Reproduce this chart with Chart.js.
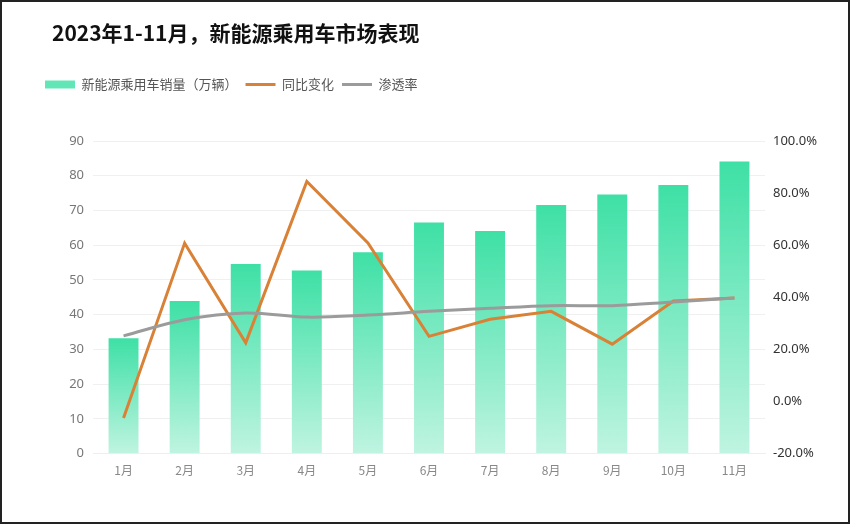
<!DOCTYPE html>
<html>
<head>
<meta charset="utf-8">
<script src="https://cdn.jsdelivr.net/npm/chart.js@4.4.1/dist/chart.umd.min.js"></script>
<style>
  html, body { margin: 0; padding: 0; background: #fff; }
  .wrap { position: relative; width: 850px; height: 524px; }
  .title {
    position: absolute; left: 52px; top: 18px;
    font: bold 21px "Noto Sans CJK SC", sans-serif; color: #111;
    line-height: 28px; white-space: nowrap;
  }
  .frame {
    position: absolute; left: 0; top: 0; width: 850px; height: 524px;
    box-sizing: border-box; border: 2px solid #222; pointer-events: none;
  }
</style>
</head>
<body>
<div class="wrap">
  <canvas id="chart" width="850" height="524"></canvas>
  <div class="title">2023年1-11月，新能源乘用车市场表现</div>
  <div class="frame"></div>
</div>
<script>
// 月份
const months = ['1月', '2月', '3月', '4月', '5月', '6月', '7月', '8月', '9月', '10月', '11月']
// 新能源乘用车销量（万辆）
const sales = [33.2, 43.9, 54.6, 52.7, 58.0, 66.5, 64.1, 71.6, 74.6, 77.3, 84.1]
// 同比变化 (%)
const yoy = [-6.3, 60.8, 22.5, 84.5, 60.9, 25.0, 31.6, 34.6, 22.0, 38.6, 39.7]
// 渗透率 (%)
const penetration = [25.2, 31.4, 34.0, 32.4, 33.2, 34.6, 35.8, 36.8, 36.8, 38.2, 39.7]

const legendSpacer = {
  id: 'legendSpacer',
  beforeInit(chart) {
    const origFit = chart.legend.fit
    chart.legend.fit = function () {
      origFit.bind(chart.legend)()
      this.height += 40
    }
  },
}

// 每根柱子从顶部到底部渐变
function barGradient(context) {
  const chart = context.chart
  const { ctx, chartArea, scales } = chart
  if (!chartArea || context.type !== 'data') return '#4fe3b0'
  const top = scales.y.getPixelForValue(context.parsed.y)
  const g = ctx.createLinearGradient(0, top, 0, chartArea.bottom)
  g.addColorStop(0, '#3ee0a6')
  g.addColorStop(1, '#bff4e1')
  return g
}

const ctx = document.getElementById('chart').getContext('2d')
new Chart(ctx, {
  data: {
    labels: months,
    datasets: [
      {
        type: 'line',
        label: '同比变化',
        data: yoy,
        yAxisID: 'y1',
        borderColor: '#d98237',
        borderWidth: 3,
        pointRadius: 0,
        tension: 0,
        order: 1,
      },
      {
        type: 'line',
        label: '渗透率',
        data: penetration,
        yAxisID: 'y1',
        borderColor: '#9b9b9b',
        borderWidth: 3,
        pointRadius: 0,
        tension: 0.35,
        order: 0,
      },
      {
        type: 'bar',
        label: '新能源乘用车销量（万辆）',
        data: sales,
        yAxisID: 'y',
        backgroundColor: barGradient,
        categoryPercentage: 1,
        barPercentage: 0.49,
        order: 2,
      },
    ],
  },
  options: {
    responsive: false,
    animation: false,
    layout: { padding: { left: 37, right: 0, top: 70, bottom: 44 } },
    plugins: {
      tooltip: { enabled: false },
      legend: {
        position: 'top',
        align: 'start',
        labels: {
          color: '#555',
          font: { size: 13, family: '"Noto Sans CJK SC", sans-serif' },
          boxWidth: 30,
          boxHeight: 8,
          padding: 8,
          usePointStyle: true,
          pointStyleWidth: 30,
          generateLabels(chart) {
            const order = [2, 0, 1]
            return order.map(i => {
              const ds = chart.data.datasets[i]
              const isBar = ds.type === 'bar'
              return {
                text: ds.label,
                datasetIndex: i,
                fillStyle: isBar ? '#62e6b7' : ds.borderColor,
                strokeStyle: isBar ? '#62e6b7' : ds.borderColor,
                lineWidth: isBar ? 0 : 3,
                pointStyle: isBar ? 'rect' : 'line',
                fontColor: '#555',
                hidden: false,
              }
            })
          },
        },
      },
    },
    scales: {
      x: {
        grid: { display: false },
        border: { color: '#eeeeee' },
        ticks: {
          color: '#888',
          font: { size: 12, family: '"Noto Sans CJK SC", sans-serif' },
          padding: 2,
        },
      },
      y: {
        position: 'left',
        min: 0,
        max: 90,
        ticks: {
          stepSize: 10,
          color: '#777',
          font: { size: 13, family: '"Noto Sans", sans-serif' },
          padding: 9,
        },
        grid: { color: '#f0f0f0', drawTicks: false },
        border: { display: false },
        afterFit(scale) { scale.width = 56 },
      },
      y1: {
        position: 'right',
        min: -20,
        max: 100,
        ticks: {
          stepSize: 20,
          color: '#333',
          font: { size: 13, family: '"Noto Sans", sans-serif' },
          padding: 8,
          callback: v => v.toFixed(1) + '%',
        },
        grid: { display: false, drawTicks: false },
        border: { display: false },
        afterFit(scale) { scale.width = 85 },
      },
    },
  },
  plugins: [legendSpacer],
})
</script>
</body>
</html>
